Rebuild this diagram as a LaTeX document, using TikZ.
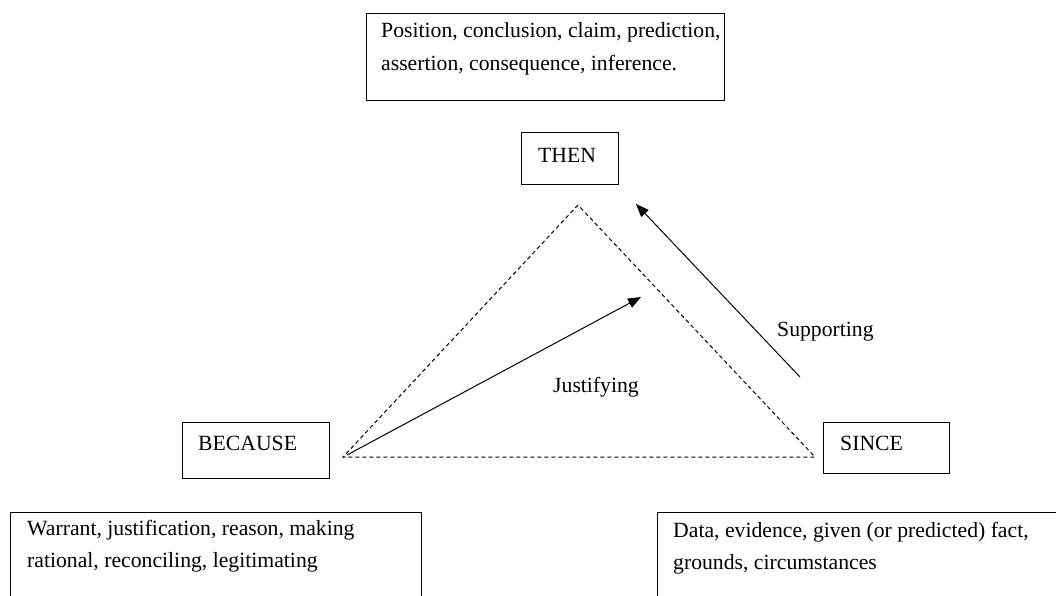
\documentclass[tikz,border=0pt]{standalone}
\usepackage{fontspec}
\setmainfont{Liberation Serif}
\usetikzlibrary{arrows.meta}
\begin{document}
\begin{tikzpicture}[x=1pt,y=-1pt,
  box/.style={draw, line width=1.1pt, inner sep=0pt, anchor=north west},
  lbl/.style={anchor=base west, inner sep=0pt, font=\fontsize{21.7}{32.5}\selectfont},
  tri/.style={dash pattern=on 4pt off 3pt, line width=1pt},
  arr/.style={-{Triangle[length=13pt,width=10pt]}, line width=1pt}]
\useasboundingbox (0,0) rectangle (1056,595);
\clip (0,0) rectangle (1056,595);
\fill[white] (0,0) rectangle (1056,595);

% claim box at the top
\node[box, minimum width=358pt, minimum height=87pt] (claimbox) at (366,13) {};
\node[lbl] (claim1) at (381,37) {Position, conclusion, claim, prediction,};
\node[lbl] (claim2) at (381,70) {assertion, consequence, inference.};

% the three corner labels
\node[box, minimum width=97pt, minimum height=52pt] (thenbox) at (521,132) {};
\node[lbl] (then) at (538,162) {THEN};
\node[box, minimum width=147pt, minimum height=56pt] (becausebox) at (182,422) {};
\node[lbl] (because) at (198,450) {BECAUSE};
\node[box, minimum width=126pt, minimum height=51pt] (sincebox) at (823,422) {};
\node[lbl] (since) at (840,450) {SINCE};

% lower boxes, running past the bottom edge
\node[box, minimum width=411pt, minimum height=110pt] (warrantbox) at (10,512) {};
\node[lbl] (warrant1) at (27,535) {Warrant, justification, reason, making};
\node[lbl] (warrant2) at (27,567) {rational, reconciling, legitimating};
\node[box, minimum width=450pt, minimum height=110pt] (databox) at (657,512) {};
\node[lbl] (data1) at (673,537) {Data, evidence, given (or predicted) fact,};
\node[lbl] (data2) at (673,569) {grounds, circumstances};

% dashed triangle
\coordinate (apex) at (578,205);
\coordinate (left) at (343,457);
\coordinate (right) at (815,457);
\draw[tri] (apex) -- (left) -- (right) -- cycle;

% arrows
\coordinate (jstart) at (347,455);
\coordinate (jend) at (641,297);
\coordinate (sstart) at (800,377);
\coordinate (send) at (636,204);
\draw[arr] (jstart) -- (jend);
\draw[arr] (sstart) -- (send);

\node[lbl] (supporting) at (777,336) {Supporting};
\node[lbl] (justifying) at (553,392) {Justifying};
\end{tikzpicture}
\end{document}
